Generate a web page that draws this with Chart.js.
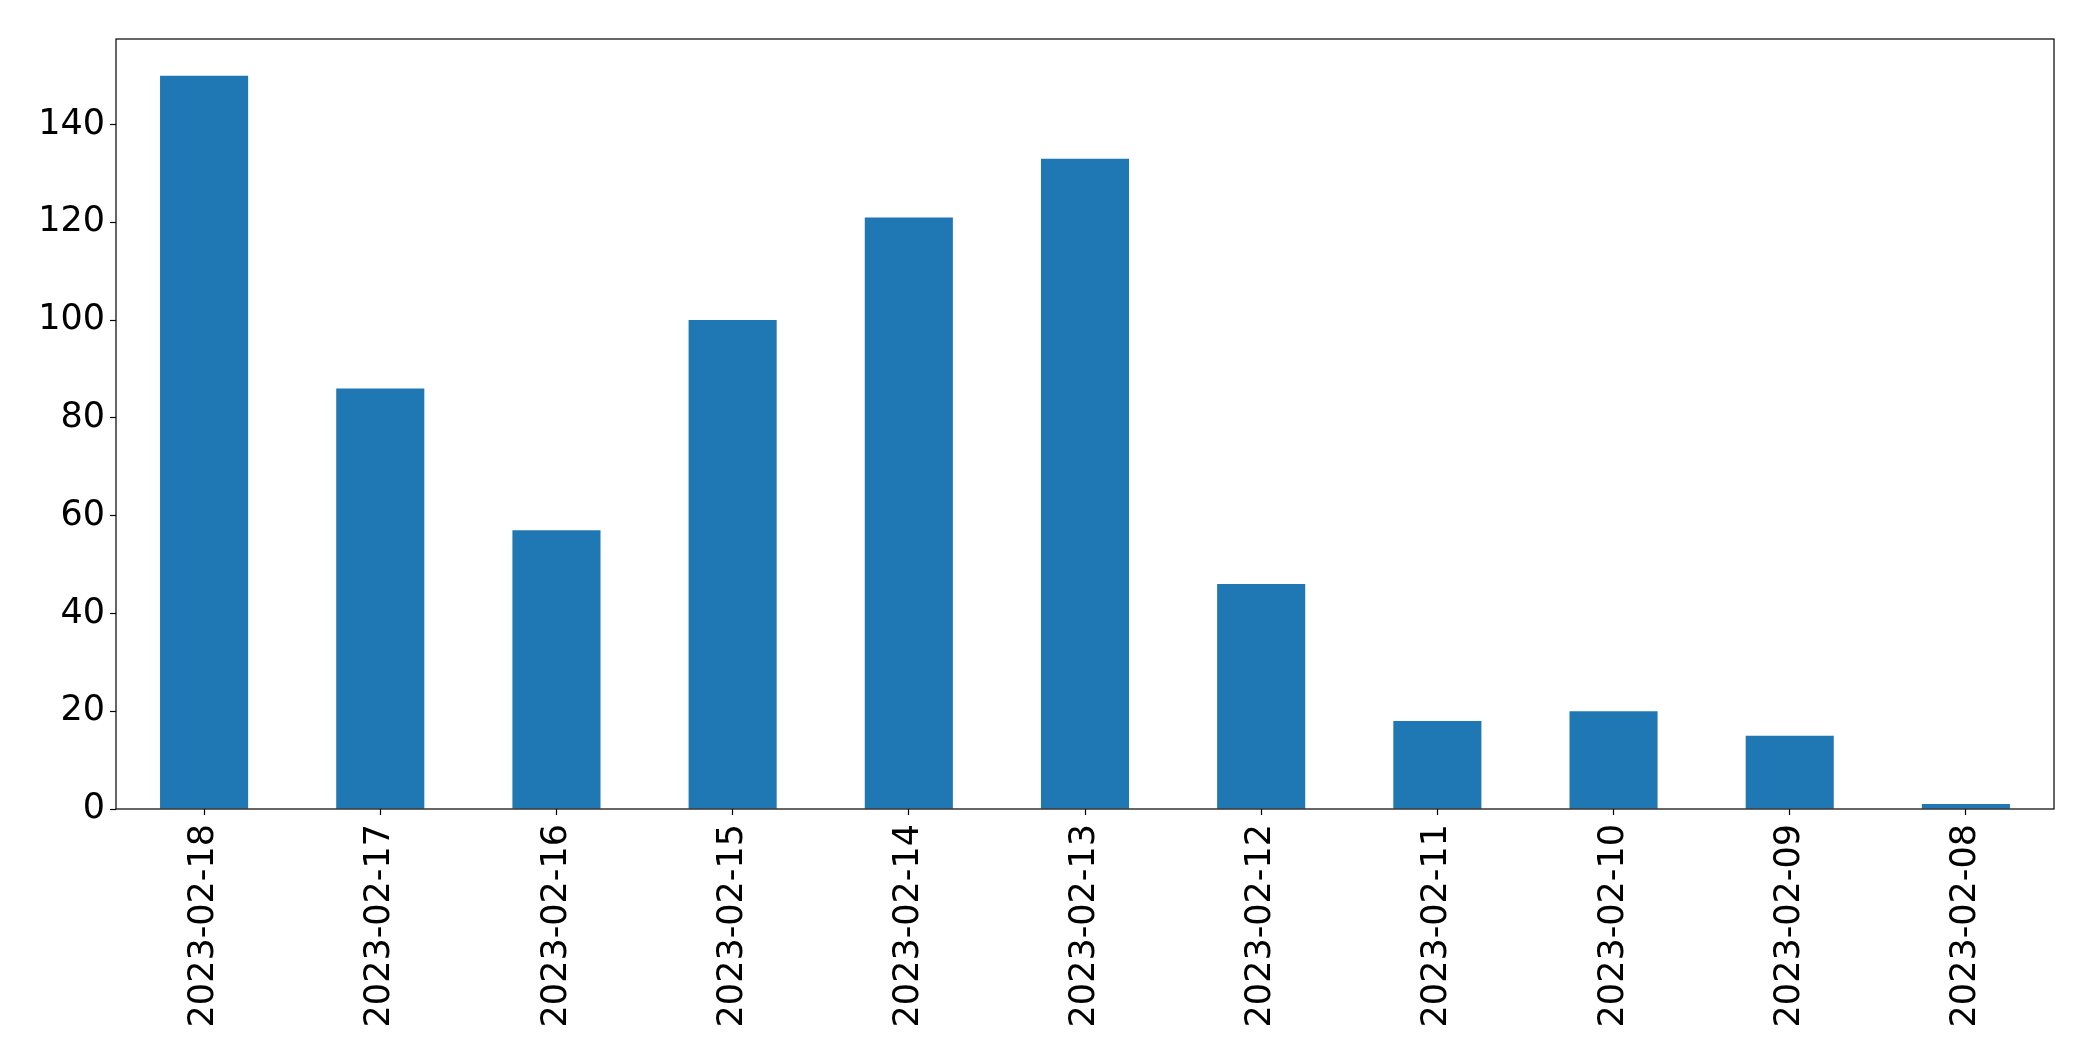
<!DOCTYPE html>
<html lang="en">
<head>
  <meta charset="UTF-8">
  <title>Daily counts</title>
  <script src="https://cdn.jsdelivr.net/npm/chart.js"></script>
  <style>
      body { margin: 0; background: #ffffff; }
      canvas { display: block; }
  </style>
</head>
<body>
  <canvas id="barChart" width="2093" height="1061"></canvas>

  <script>
      // categories, in the order shown (newest first)
      var dates = [
        "2023-02-18", "2023-02-17", "2023-02-16", "2023-02-15",
        "2023-02-14", "2023-02-13", "2023-02-12", "2023-02-11",
        "2023-02-10", "2023-02-09", "2023-02-08"
      ];

      var counts = [150, 86, 57, 100, 121, 133, 46, 18, 20, 15, 1];

      var yTicks = [0, 20, 40, 60, 80, 100, 120, 140];
      var yMax = 157.5;

      // draw the full box round the plot area, like matplotlib's spines
      Chart.register({
          id: 'frame',
          afterDraw: (chart) => {
              const { ctx, chartArea: { left, right, top, bottom } } = chart;
              ctx.save();
              ctx.strokeStyle = '#000000';
              ctx.lineWidth = 1.2;
              ctx.strokeRect(left, top, right - left, bottom - top);
              ctx.restore();
          }
      });

      var ctx = document.getElementById('barChart').getContext('2d');
      var chart = new Chart(ctx, {
          type: 'bar',
          data: {
              labels: dates,
              datasets: [{
                  data: counts,
                  backgroundColor: '#1f77b4',
                  borderWidth: 0,
                  barPercentage: 0.5,
                  categoryPercentage: 1.0
              }]
          },
          options: {
              responsive: false,
              animation: false,
              layout: { padding: { top: 39, right: 39, left: 0, bottom: 0 } },
              plugins: {
                  legend: { display: false },
                  tooltip: { enabled: false }
              },
              scales: {
                  x: {
                      offset: true,
                      grid: {
                          offset: false,
                          drawOnChartArea: false,
                          drawTicks: true,
                          tickLength: 6,
                          tickColor: '#000000',
                          tickWidth: 1.2
                      },
                      border: { display: false },
                      ticks: {
                          color: '#000000',
                          font: { family: 'DejaVu Sans', size: 35 },
                          minRotation: 90,
                          maxRotation: 90,
                          autoSkip: false,
                          padding: 9
                      },
                      afterFit: (scale) => { scale.height = 252; }
                  },
                  y: {
                      min: 0,
                      max: yMax,
                      grid: {
                          drawOnChartArea: false,
                          drawTicks: true,
                          tickLength: 6,
                          tickColor: '#000000',
                          tickWidth: 1.2
                      },
                      border: { display: false },
                      ticks: {
                          color: '#000000',
                          font: { family: 'DejaVu Sans', size: 35 },
                          padding: 5
                      },
                      afterBuildTicks: (scale) => {
                          scale.ticks = yTicks.map(v => ({ value: v }));
                      },
                      afterFit: (scale) => { scale.width = 116; }
                  }
              }
          }
      });
  </script>
</body>
</html>
